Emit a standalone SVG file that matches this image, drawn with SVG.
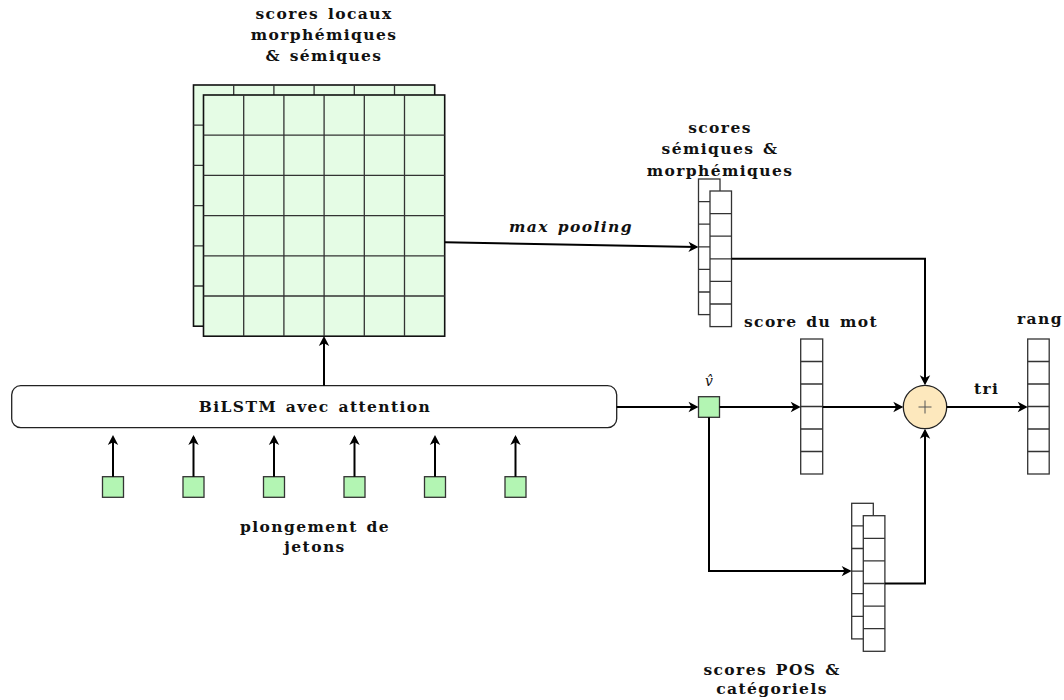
<svg xmlns="http://www.w3.org/2000/svg" width="1064" height="700" viewBox="0 0 1064 700">
  <style>
    .lbl { font-family: "DejaVu Serif", "Liberation Serif", serif; font-weight: bold; font-size: 15.5px; letter-spacing: 1.4px; word-spacing: 2px; fill: #111; text-anchor: middle; }
    .ital { font-style: italic; }
    .grid { fill: #e5fce5; stroke: #111; stroke-width: 1.6; }
    .gline { fill: none; stroke: #333; stroke-width: 1.3; }
    .vec { fill: #ffffff; stroke: #333; stroke-width: 1.3; }
    .tok { fill: #b3f5b3; stroke: #333; stroke-width: 1.3; }
    .sum { fill: #fde8bd; stroke: #222; stroke-width: 1.3; }
    .arr { fill: none; stroke: #000; stroke-width: 2; marker-end: url(#head); }
  </style>
  <defs>
    <marker id="head" viewBox="-12 -7 14 14" refX="-2" refY="0" markerWidth="14" markerHeight="14" markerUnits="userSpaceOnUse" orient="auto">
      <path d="M0,0 L-10,-5.2 L-7.2,0 L-10,5.2 Z" fill="#000"/>
    </marker>
  </defs>

  <!-- 6x6 local score grids, back layer then front layer -->
  <g id="local-scores">
    <rect class="grid" x="193.5" y="85" width="241.2" height="241.2"/>
    <path class="gline" d="M233.7,85V326.2M273.9,85V326.2M314.1,85V326.2M354.3,85V326.2M394.5,85V326.2M193.5,125.2H434.7M193.5,165.4H434.7M193.5,205.6H434.7M193.5,245.8H434.7M193.5,286H434.7"/>
    <rect class="grid" x="203.5" y="95" width="241.2" height="241.2"/>
    <path class="gline" d="M243.7,95V336.2M283.9,95V336.2M324.1,95V336.2M364.3,95V336.2M404.5,95V336.2M203.5,135.2H444.7M203.5,175.4H444.7M203.5,215.6H444.7M203.5,255.8H444.7M203.5,296H444.7"/>
    <text class="lbl" x="324" y="18.5">scores locaux</text>
    <text class="lbl" x="324" y="39.5">morphémiques</text>
    <text class="lbl" x="324" y="60.5">&amp; sémiques</text>
  </g>

  <!-- pooled semic / morphemic score vectors -->
  <g id="sem-scores">
    <rect class="vec" x="698.5" y="179" width="21.5" height="135.6"/>
    <path class="gline" d="M698.5,201.6H720M698.5,224.2H720M698.5,246.8H720M698.5,269.4H720M698.5,292H720"/>
    <rect class="vec" x="710" y="191" width="21.5" height="135.6"/>
    <path class="gline" d="M710,213.6H731.5M710,236.2H731.5M710,258.8H731.5M710,281.4H731.5M710,304H731.5"/>
    <text class="lbl" x="720" y="132.5">scores</text>
    <text class="lbl" x="720" y="154">sémiques &amp;</text>
    <text class="lbl" x="720" y="175.5">morphémiques</text>
  </g>

  <!-- encoder -->
  <g id="bilstm">
    <rect x="11.7" y="385.7" width="605" height="42" rx="9" ry="9" fill="#fff" stroke="#222" stroke-width="1.3"/>
    <text class="lbl" x="315" y="411.5">BiLSTM avec attention</text>
  </g>

  <!-- token embeddings -->
  <g id="tokens">
    <rect class="tok" x="102.5" y="476.7" width="21" height="20.6"/>
    <rect class="tok" x="183" y="476.7" width="21" height="20.6"/>
    <rect class="tok" x="263.5" y="476.7" width="21" height="20.6"/>
    <rect class="tok" x="344" y="476.7" width="21" height="20.6"/>
    <rect class="tok" x="424.5" y="476.7" width="21" height="20.6"/>
    <rect class="tok" x="505" y="476.7" width="21" height="20.6"/>
    <text class="lbl" x="315" y="531.5">plongement de</text>
    <text class="lbl" x="315" y="552">jetons</text>
  </g>

  <!-- pooled word vector -->
  <g id="v-hat">
    <rect class="tok" x="698.5" y="396.7" width="21" height="20.6"/>
    <text x="709" y="386" font-family="DejaVu Serif, serif" font-style="italic" font-size="14" text-anchor="middle" fill="#111">v̂</text>
  </g>

  <!-- word score -->
  <g id="word-score">
    <rect class="vec" x="800.7" y="339" width="22" height="135"/>
    <path class="gline" d="M800.7,361.5H822.7M800.7,384H822.7M800.7,406.5H822.7M800.7,429H822.7M800.7,451.5H822.7"/>
    <text class="lbl" x="811" y="326.5">score du mot</text>
  </g>

  <!-- POS and categorial scores -->
  <g id="pos-scores">
    <rect class="vec" x="851.7" y="503.3" width="21.6" height="135.6"/>
    <path class="gline" d="M851.7,525.9H873.3M851.7,548.5H873.3M851.7,571.1H873.3M851.7,593.7H873.3M851.7,616.3H873.3"/>
    <rect class="vec" x="863.3" y="515.7" width="21.6" height="135.6"/>
    <path class="gline" d="M863.3,538.3H884.9M863.3,560.9H884.9M863.3,583.5H884.9M863.3,606.1H884.9M863.3,628.7H884.9"/>
    <text class="lbl" x="772" y="675">scores POS &amp;</text>
    <text class="lbl" x="772" y="694">catégoriels</text>
  </g>

  <!-- sum node -->
  <g id="sum">
    <circle class="sum" cx="925" cy="407" r="21.7"/>
    <path d="M918.5,407H931.5M925,400.5V413.5" stroke="#555" stroke-width="1" fill="none"/>
  </g>

  <!-- ranking output -->
  <g id="rank">
    <rect class="vec" x="1027.7" y="339" width="21.5" height="135"/>
    <path class="gline" d="M1027.7,361.5H1049.2M1027.7,384H1049.2M1027.7,406.5H1049.2M1027.7,429H1049.2M1027.7,451.5H1049.2"/>
    <text class="lbl" x="1040" y="323.5">rang</text>
  </g>

  <!-- connectors -->
  <g id="connectors">
    <path class="arr" d="M445,242.3L696.5,247"/>
    <text class="lbl ital" x="571" y="231.5">max pooling</text>
    <path class="arr" d="M731.5,258.8H925V383.3"/>
    <path class="arr" d="M113,476.7V437"/>
    <path class="arr" d="M193.5,476.7V437"/>
    <path class="arr" d="M274,476.7V437"/>
    <path class="arr" d="M354.5,476.7V437"/>
    <path class="arr" d="M435,476.7V437"/>
    <path class="arr" d="M515.5,476.7V437"/>
    <path class="arr" d="M324,385.7V338"/>
    <path class="arr" d="M616.7,407H696.5"/>
    <path class="arr" d="M719.5,407H798.7"/>
    <path class="arr" d="M822.7,407H901.3"/>
    <path class="arr" d="M709,417.3V571.1H849.7"/>
    <path class="arr" d="M884.9,583.5H925V430.7"/>
    <path class="arr" d="M946.7,407H1025.7"/>
    <text class="lbl" x="986.7" y="394">tri</text>
  </g>
</svg>
